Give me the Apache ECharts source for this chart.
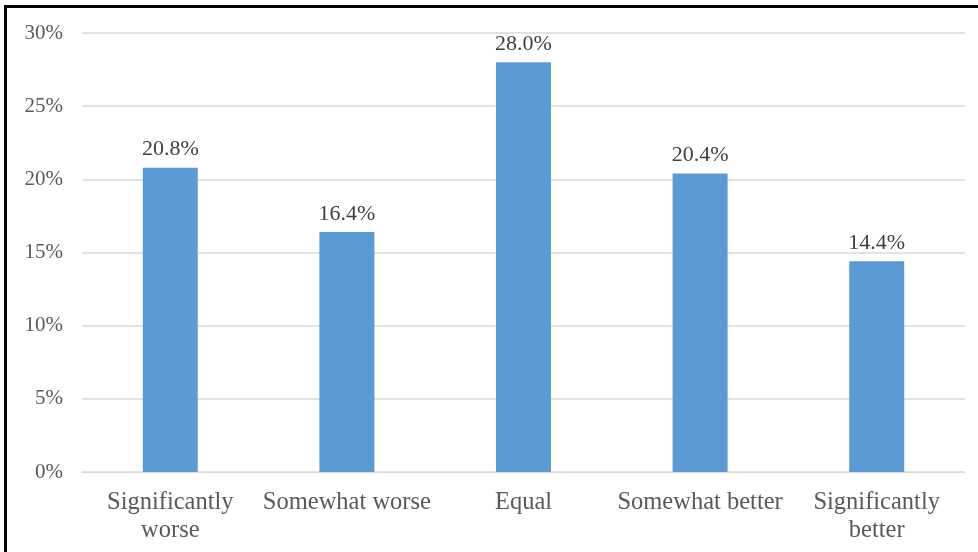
<!DOCTYPE html>
<html>
<head>
<meta charset="utf-8">
<script src="https://cdn.jsdelivr.net/npm/echarts@6/dist/echarts.min.js"></script>
<style>
  html, body { margin: 0; padding: 0; background: #fff; }
  #chart { width: 978px; height: 552px; }
</style>
</head>
<body>
<div id="chart"></div>
<script>
// Survey response categories and their shares (percent)
const categories = ['Significantly\nworse', 'Somewhat worse', 'Equal', 'Somewhat better', 'Significantly\nbetter'];
const shares = [20.8, 16.4, 28.0, 20.4, 14.4];
const yTicks = [0, 5, 10, 15, 20, 25, 30];

const serif = '"Liberation Serif", "Times New Roman", serif';
const chart = echarts.init(document.getElementById('chart'), null, { renderer: 'canvas' });

chart.setOption({
  animation: false,
  backgroundColor: '#ffffff',
  grid: { left: 82, right: 13, top: 33, bottom: 80, containLabel: false },
  xAxis: {
    type: 'category',
    data: categories,
    axisLine: { show: true, lineStyle: { color: '#d9d9d9', width: 1 } },
    axisTick: { show: false },
    axisLabel: {
      color: '#595959',
      fontFamily: serif,
      fontSize: 24.5,
      lineHeight: 28,
      margin: 17,
      interval: 0
    }
  },
  yAxis: {
    type: 'value',
    min: yTicks[0],
    max: yTicks[yTicks.length - 1],
    interval: 5,
    axisLine: { show: false },
    axisTick: { show: false },
    splitLine: { lineStyle: { color: '#d9d9d9', width: 1.5 } },
    axisLabel: {
      color: '#595959',
      fontFamily: serif,
      fontSize: 21,
      margin: 19,
      formatter: v => v + '%'
    }
  },
  series: [{
    type: 'bar',
    data: shares,
    barWidth: 55,
    itemStyle: { color: '#5b9bd5' },
    label: {
      show: true,
      position: 'top',
      distance: 7,
      color: '#404040',
      fontFamily: serif,
      fontSize: 22,
      formatter: p => p.value.toFixed(1) + '%'
    }
  }],
  graphic: [{
    type: 'polyline',
    shape: { points: [[5.5, 552], [5.5, 6.5], [978, 6.5]] },
    style: { stroke: '#000000', lineWidth: 3, fill: null }
  }]
});
</script>
</body>
</html>
